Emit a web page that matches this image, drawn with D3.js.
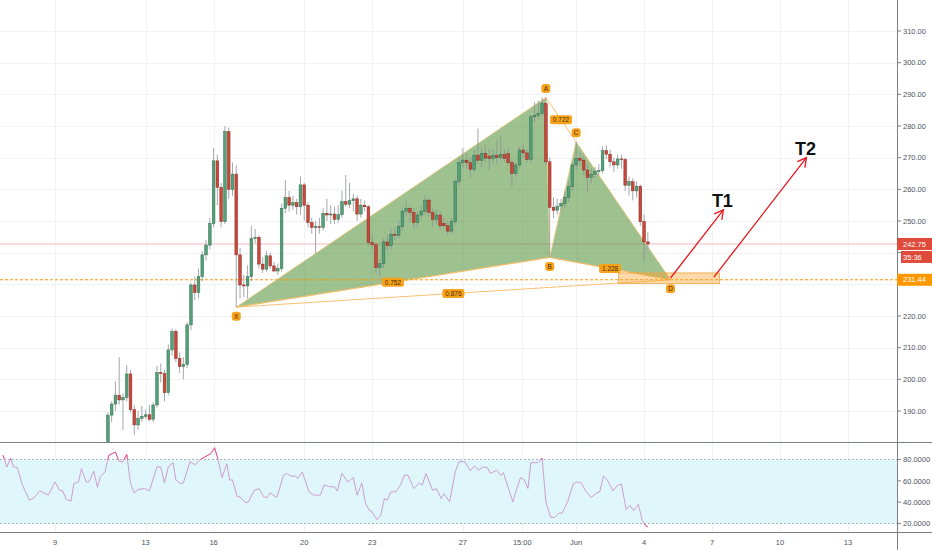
<!DOCTYPE html>
<html><head><meta charset="utf-8">
<script src="https://cdn.jsdelivr.net/npm/d3@7"></script>
<style>html,body{margin:0;padding:0;background:#fff;}svg{display:block;font-family:"Liberation Sans",Arial,sans-serif;}</style>
</head><body><svg id="c" width="932" height="550"></svg>
<script>
// ---------- DATA ----------
const firstBar = "2019-05-11T08:00:00Z";   // 4h bars
const barHours = 4;
// [open, high, low, close]
const candles = [
[176,189.5,175,188.7],[188.7,193,186.5,192.2],[192.2,199.3,190,195],[195,207,192,193.5],[193.5,195.5,184,194.2],
[194.2,204.5,193,201.7],[201.7,203,189.5,190.4],[190.4,192,182.4,185.6],[185.6,190,184,187.7],[187.7,191.6,186.5,188.3],
[188.3,190.5,187.5,188.8],[188.8,191.9,186.8,187.4],[187.4,192.8,186.5,191.9],[191.9,204.2,191,202.1],[202.1,205,199,201.8],
[201.8,203,193,195.8],[195.8,211,195,209.3],[209.3,216,207.5,215.1],[215.1,215.8,205.5,206.6],[206.6,208.5,202,204],
[204,207,200,204.7],[204.7,218,203.5,217.2],[217.2,230.5,215.5,229.8],[229.8,232.5,225,227.4],[227.4,235,225.5,232.4],
[232.4,240.5,231,239.3],[239.3,244,237.5,242.4],[242.4,251,241,249.2],[249.2,273,248,269],[269,271,255,260.6],
[260.6,262,248,249.8],[249.8,280,249,278.2],[278.2,279.5,257,260],[260,268.5,258,264.8],[264.8,267.5,222.8,239.3],
[239.3,241.5,225.5,229.8],[229.8,233,226,229.5],[229.5,236,225.5,232.4],[232.4,248.5,231,244.5],[244.5,247.5,243,244.8],
[244.8,245.5,235,236.4],[236.4,238.5,233.5,234.8],[234.8,240.5,234,239],[239,240,235,235.8],[235.8,237,234,234.2],
[234.2,236.5,233,235],[235,255.5,234,254],[254,263,252.5,257.5],[257.5,259.5,253,255],[255,258,253.5,255.8],
[255.8,257,252,254.5],[254.5,264,252,261.4],[261.4,262,250,255],[255,256,248,249.5],[249.5,251,246,248],
[248,250,239.8,248.2],[248.2,251,246,248],[248,254,247,252.4],[252.4,257,250,251.9],[251.9,255,249,252.2],
[252.2,254.5,249,250.5],[250.5,255,249.5,252],[252,259.5,251,256.1],[256.1,264.5,254.5,255.3],[255.3,262,254,256.4],
[256.4,258.5,253,257],[257,258,250,252.2],[252.2,257,251,255],[255,256.5,253,254.5],[254.5,255,242,243.2],
[243.2,246,241,242.5],[242.5,243,233.5,235.3],[235.3,238,232.5,236.5],[236.5,244.5,235,243.4],[243.4,245.5,240.5,242.2],
[242.2,247.5,241,245.8],[245.8,248,244,245.5],[245.5,250,244.5,248.2],[248.2,254.5,247,253.1],[253.1,256.5,251.5,254],
[254,255,249.5,252.7],[252.7,254,247.5,249.5],[249.5,253,248,251.9],[251.9,255,250.5,253.1],[253.1,258,252,256.6],
[256.6,257.5,251.5,252.7],[252.7,254,248,250.5],[250.5,253.5,249,251.9],[251.9,253,247,248.5],[249.2,251,247.5,248.5],
[248.5,250,245.5,246.8],[246.8,251,246,249.8],[249.8,263.5,249,262.4],[262.4,270,261,268.4],[268.4,273,267,269.2],
[269.2,271.5,266.5,268.4],[268.4,270,263.5,266.3],[266.3,272.5,265.5,270.8],[270.8,279.2,268,269.2],[269.2,273,267,271.3],
[271.3,274,268.5,269.9],[270.5,273,266,269.7],[269.7,272.5,268.5,270.8],[270.8,275.5,268,270],[270,277,269,271],
[271,272.5,268.5,269.8],[271.3,273,267.5,268.4],[268.4,269.5,260.8,265],[265,268.5,264,267.7],[267.7,273.5,266.5,272.4],
[272.4,274,270,271.5],[271.5,272.5,268.5,269.4],[269.4,283.5,268.5,282.9],[282.9,287.5,281,283.4],[283.4,288,282,284],
[284,289,283,287.1],[287.1,289,267.5,268.7],[268.7,270,238.5,254.3],[254.3,257.5,251,253.4],[253.4,257,252,254.7],
[254.7,257,253,255.5],[255.5,259.5,254,257.4],[257.4,262.5,256,260.8],[260.8,268.5,259.5,267.7],[267.7,275,266,269.8],
[269.8,271.5,267.5,269.2],[269.2,270.5,264.5,266.1],[266.1,268,259,263.8],[263.8,266.5,262,264.8],[264.8,267,263.5,265.6],
[265.6,268,264.5,265.9],[265.9,273.5,265,272.2],[272.2,274,269.5,271.1],[271.1,272.5,267,268.7],[268.7,270,265.5,267.7],
[267.7,271,266.5,269.6],[269.6,271,266.5,269.4],[269.4,270,259.5,261.3],[261.3,264,258,262.4],[262.4,263.5,256.5,259.5],
[259.5,262.5,257.5,261],[261,261.5,248.5,249.8],[249.8,252,237.1,243.4],[243.4,246.5,241,242.75]
];
const priceTicks = [310,300,290,280,270,260,250,240,230,220,210,200,190];
const priceTickLabelsShown = [310,300,290,280,270,260,250,220,210,200,190]; // 240 & 230 sit under the price tags
const rsiTicks = [80,60,40,20];
const timeTicks = ["2019-05-09T00:00:00Z","2019-05-13T00:00:00Z","2019-05-16T00:00:00Z","2019-05-20T00:00:00Z","2019-05-23T00:00:00Z","2019-05-27T00:00:00Z","2019-05-29T15:00:00Z","2019-06-01T00:00:00Z","2019-06-04T00:00:00Z","2019-06-07T00:00:00Z","2019-06-10T00:00:00Z","2019-06-13T00:00:00Z"];
const timeTickLabels = ["9","13","16","20","23","27","15:00","Jun","4","7","10","13"];
const patternNames = ["X","A","B","C","D"];
const patternTimes = ["2019-05-17T00:00:00Z","2019-05-30T16:00:00Z","2019-05-30T20:00:00Z","2019-06-01T00:00:00Z","2019-06-05T04:00:00Z"];
const patternPrices = [222.8,289,238.5,275,231.44];
const ratioPairs = [["X","B"],["A","C"],["X","D"],["B","D"]];
const ratioLabels = ["0.752","0.722","0.876","1.228"];
const lastPrice = 242.75, countdown = "35:36", levelPrice = 231.44;
const zoneTimes = ["2019-06-02T21:00:00Z","2019-06-07T08:00:00Z"];
const zonePrices = [230.3,233.6];
const targetLabels = ["T1","T2"];
const targetStartTimes = ["2019-06-05T04:00:00Z","2019-06-07T02:00:00Z"];
const targetStartPrices = [232,232.3];
const targetEndTimes = ["2019-06-07T12:00:00Z","2019-06-11T04:00:00Z"];
const targetEndPrices = [253.5,270];
// RSI: [hours since 2019-05-09 00:00 UTC, value]
const rsiPoints = [[-55,84],[-51,73],[-47,81],[-44,73],[-40,72.5],[-35,57.5],[-32,51],[-27,42],[-23,43.5],[-16,50.6],[-7,46.6],
[0,59],[5,51],[8,50.6],[12,42.5],[17,41],[20,57.5],[25,59],[28,71.5],[33,59],[36,59],[41,69],[45,54],[48,64],[53,68.4],[57,84],
[64,87],[68,78],[72,78],[76,85],[80,57.5],[84,48.75],[88,51.9],[95,52.8],[100,50.6],[108,73],[112,73],[116,58],[120,73],[125,77],
[128,61],[133,57.5],[136,58],[143,78],[148,75],[154,80],[159,82.5],[165,85.6],[169,91],[172,82.5],[177,63],[182,76],[185,60.6],
[188,61],[193,45],[196,45],[202,39.4],[205,40.3],[211,51],[216,52.8],[221,45],[225,44.4],[228,48.75],[235,44.4],[242,65.3],
[246,66.9],[250,64.4],[255,64.4],[257,62],[262,68.4],[269,49.7],[274,46.6],[281,46.6],[285,56],[292,54.4],[296,54.4],[299,50.6],
[304,66.9],[310,59],[316,63],[320,46.6],[325,58],[329,38.75],[333,32],[335,32],[341,23.75],[345,28],[349,43.4],[352,42],
[356,49.7],[361,49.7],[366,56],[370,65.3],[374,65.3],[380,52.8],[386,58],[389,56],[393,66.9],[400,51],[404,52.8],[409,43.4],
[412,48],[418,40.3],[424,68.4],[428,78],[434,78],[440,69.4],[444,73.75],[449,70],[453,73],[458,72.5],[461,67],[468,70],
[472,65.3],[475,67.5],[481,51],[485,40.3],[488,49.7],[493,63],[497,61],[501,52.8],[504,77],[511,77],[516,81],[520,40.3],
[525,26],[529,25.6],[534,30],[537,29.4],[543,40.3],[549,57],[553,59],[558,57.5],[562,50.6],[568,44.4],[574,48.75],[577,49.7],
[581,64.4],[585,61],[591,50.6],[596,56],[600,57],[605,33],[609,37],[613,32],[618,38],[622,23],[626,17.5],[628,17]
];

// ---------- CHART ----------
const W = 932, H = 550, plotR = 897, mainB = 442, rsiB = 532;
const svg = d3.select("#c");
const t0 = new Date("2019-05-09T00:00:00Z");
const x = d3.scaleUtc().domain([t0, new Date("2019-06-13T00:00:00Z")]).range([55, 848]);
const y = d3.scaleLinear().domain([190, 310]).range([411, 31]);
const yR = d3.scaleLinear().domain([20, 80]).range([523.5, 459.5]);
const bar = i => new Date(new Date(firstBar).getTime() + i * barHours * 3600e3);
const hrs = h => new Date(t0.getTime() + h * 3600e3);

const defs = svg.append("defs");
defs.append("clipPath").attr("id","mainClip").append("rect").attr("x",0).attr("y",0).attr("width",plotR).attr("height",mainB);
defs.append("clipPath").attr("id","rsiClip").append("rect").attr("x",0).attr("y",mainB+1).attr("width",plotR).attr("height",rsiB-mainB-1);
defs.append("clipPath").attr("id","obClip").append("rect").attr("x",0).attr("y",mainB+1).attr("width",plotR).attr("height",yR(80)-mainB-1);
defs.append("clipPath").attr("id","osClip").append("rect").attr("x",0).attr("y",yR(20)).attr("width",plotR).attr("height",rsiB-yR(20));

svg.append("rect").attr("width",W).attr("height",H).attr("fill","#fff");

// grid
const grid = svg.append("g").attr("stroke","#f1f2f5").attr("stroke-width",1);
priceTicks.forEach(p => grid.append("line").attr("x1",0).attr("x2",plotR).attr("y1",Math.round(y(p))+0.5).attr("y2",Math.round(y(p))+0.5));
timeTicks.forEach(t => {
  const xx = Math.round(x(new Date(t)))+0.5;
  grid.append("line").attr("x1",xx).attr("x2",xx).attr("y1",0).attr("y2",mainB);
  grid.append("line").attr("x1",xx).attr("x2",xx).attr("y1",mainB).attr("y2",rsiB);
});

// RSI band
svg.append("rect").attr("x",0).attr("y",yR(80)).attr("width",plotR).attr("height",yR(20)-yR(80)).attr("fill","#dff7fb");
[80,20].forEach(v => svg.append("line").attr("x1",0).attr("x2",plotR).attr("y1",yR(v)).attr("y2",yR(v))
  .attr("stroke","#9aa0aa").attr("stroke-width",0.8).attr("stroke-dasharray","2,2"));

const main = svg.append("g").attr("clip-path","url(#mainClip)");
// last price line
main.append("line").attr("x1",0).attr("x2",plotR).attr("y1",y(lastPrice)).attr("y2",y(lastPrice)).attr("stroke","#f4bcbc").attr("stroke-width",1);

// pattern
const P = {};
patternNames.forEach((n,i) => P[n] = {x: x(new Date(patternTimes[i])), y: y(patternPrices[i])});
const tri = (a,b,c) => `M${P[a].x},${P[a].y}L${P[b].x},${P[b].y}L${P[c].x},${P[c].y}Z`;
main.append("path").attr("d",tri("X","A","B")).attr("fill","rgba(62,132,34,0.5)").attr("stroke","#f3c67e").attr("stroke-width",0.8);
main.append("path").attr("d",tri("B","C","D")).attr("fill","rgba(62,132,34,0.5)").attr("stroke","#f3c67e").attr("stroke-width",0.8);
ratioPairs.forEach(([a,b]) => main.append("line").attr("x1",P[a].x).attr("y1",P[a].y).attr("x2",P[b].x).attr("y2",P[b].y)
  .attr("stroke","#f5b965").attr("stroke-width",0.9));

// level line
main.append("line").attr("x1",0).attr("x2",plotR).attr("y1",y(levelPrice)).attr("y2",y(levelPrice))
  .attr("stroke","#ff9800").attr("stroke-width",1).attr("stroke-dasharray","3,2");

// candles
const cg = main.append("g");
candles.forEach((d,i) => {
  const [o,h,l,c] = d;
  const xx = x(bar(i));
  const up = c >= o;
  cg.append("line").attr("x1",xx).attr("x2",xx).attr("y1",y(h)).attr("y2",y(l)).attr("stroke","#8f9196").attr("stroke-width",0.8);
  const top = y(Math.max(o,c)), bot = y(Math.min(o,c));
  cg.append("rect").attr("x",xx-1.35).attr("y",top).attr("width",2.7).attr("height",Math.max(0.8,bot-top))
    .attr("fill", up ? "#55a07a" : "#c9483b").attr("stroke", up ? "#2f6e4c" : "#8a2a20").attr("stroke-width",0.5);
});

// zone
const zx0 = x(new Date(zoneTimes[0])), zx1 = x(new Date(zoneTimes[1]));
main.append("rect").attr("x",zx0).attr("y",y(zonePrices[1])).attr("width",zx1-zx0).attr("height",y(zonePrices[0])-y(zonePrices[1]))
  .attr("fill","rgba(255,160,40,0.4)").attr("stroke","#f0a640").attr("stroke-width",0.8);

// ratio labels
ratioPairs.forEach(([a,b],i) => {
  const mx = (P[a].x+P[b].x)/2, my = (P[a].y+P[b].y)/2;
  const g = main.append("g").attr("transform",`translate(${mx},${my})`);
  g.append("rect").attr("x",-11).attr("y",-4.5).attr("width",22).attr("height",9).attr("rx",2).attr("fill","#f7a21b");
  g.append("text").attr("text-anchor","middle").attr("y",2.4).attr("font-size",6.5).attr("fill","#4a2c00").text(ratioLabels[i]);
});
// point labels
const above = {X:false,A:true,B:false,C:true,D:false};
patternNames.forEach(n => {
  const g = main.append("g").attr("transform",`translate(${P[n].x},${P[n].y + (above[n]?-9:9)})`);
  g.append("rect").attr("x",-4.5).attr("y",-4.5).attr("width",9).attr("height",9).attr("rx",3).attr("fill","#f7a21b");
  g.append("text").attr("text-anchor","middle").attr("y",2.4).attr("font-size",6.5).attr("fill","#4a2c00").text(n);
});

// target arrows
targetLabels.forEach((lab,i) => {
  const x1 = x(new Date(targetStartTimes[i])), y1 = y(targetStartPrices[i]);
  const x2 = x(new Date(targetEndTimes[i])), y2 = y(targetEndPrices[i]);
  const ang = Math.atan2(y2-y1, x2-x1), L = 10, s = 0.5;
  main.append("line").attr("x1",x1).attr("y1",y1).attr("x2",x2).attr("y2",y2).attr("stroke","#e8161c").attr("stroke-width",1.3);
  const p1 = [x2 - L*Math.cos(ang - s), y2 - L*Math.sin(ang - s)];
  const p2 = [x2 - L*Math.cos(ang + s), y2 - L*Math.sin(ang + s)];
  main.append("path").attr("d",`M${p1}L${x2},${y2}L${p2}`).attr("fill","none").attr("stroke","#e8161c").attr("stroke-width",1.3);
  main.append("text").attr("x",x2-1).attr("y",y2-3).attr("text-anchor","middle").attr("font-size",18).attr("font-weight","bold")
    .attr("fill","#111").text(lab);
});

// RSI line
const rl = d3.line().x(d => x(hrs(d[0]))).y(d => yR(d[1]));
const rg = svg.append("g").attr("clip-path","url(#rsiClip)");
rg.append("path").attr("d",rl(rsiPoints)).attr("fill","none").attr("stroke","#cf9ccd").attr("stroke-width",1);
svg.append("g").attr("clip-path","url(#obClip)").append("path").attr("d",rl(rsiPoints)).attr("fill","none").attr("stroke","#ec5a93").attr("stroke-width",1);
svg.append("g").attr("clip-path","url(#osClip)").append("path").attr("d",rl(rsiPoints)).attr("fill","none").attr("stroke","#ec5a93").attr("stroke-width",1);

// separators & axis
svg.append("rect").attr("x",plotR).attr("y",0).attr("width",W-plotR).attr("height",H).attr("fill","#fff");
svg.append("line").attr("x1",0).attr("x2",W).attr("y1",mainB+0.5).attr("y2",mainB+0.5).attr("stroke","#7c7f86").attr("stroke-width",1);
svg.append("line").attr("x1",0).attr("x2",W).attr("y1",rsiB+0.5).attr("y2",rsiB+0.5).attr("stroke","#7c7f86").attr("stroke-width",1);
svg.append("line").attr("x1",plotR+0.5).attr("x2",plotR+0.5).attr("y1",0).attr("y2",H).attr("stroke","#7c7f86").attr("stroke-width",1);

const ax = svg.append("g").attr("font-size",7.5).attr("fill","#4c525e");
priceTicks.forEach(p => {
  ax.append("line").attr("x1",plotR).attr("x2",plotR+4).attr("y1",y(p)).attr("y2",y(p)).attr("stroke","#7c7f86");
});
priceTickLabelsShown.forEach(p => ax.append("text").attr("x",plotR+6).attr("y",y(p)+2.7).text(p.toFixed(2)));
rsiTicks.forEach(v => {
  ax.append("line").attr("x1",plotR).attr("x2",plotR+4).attr("y1",yR(v)).attr("y2",yR(v)).attr("stroke","#7c7f86");
  ax.append("text").attr("x",plotR+6).attr("y",yR(v)+2.7).text(v.toFixed(4));
});
timeTicks.forEach((t,i) => ax.append("text").attr("x",x(new Date(t))).attr("y",545).attr("text-anchor","middle").text(timeTickLabels[i]));

// price labels
function tag(py, txt, fill, x0) {
  svg.append("rect").attr("x",x0).attr("y",py-6).attr("width",W-x0).attr("height",12).attr("fill",fill);
  svg.append("text").attr("x",plotR+6).attr("y",py+2.7).attr("font-size",7.5).attr("fill","#fff").text(txt);
}
tag(y(lastPrice), lastPrice.toFixed(2), "#de4b3b", plotR);
tag(y(lastPrice)+13, countdown, "#de4b3b", plotR+4);
tag(y(levelPrice), levelPrice.toFixed(2), "#ff9800", plotR);
</script></body></html>
